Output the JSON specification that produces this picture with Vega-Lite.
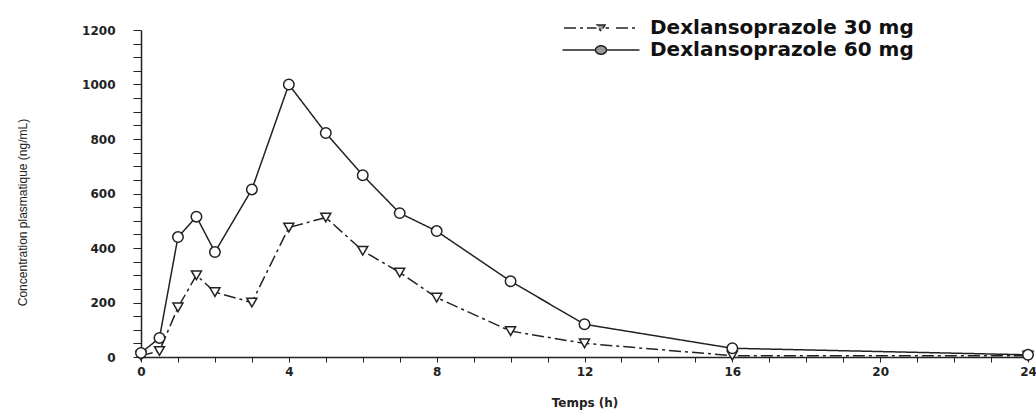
{
  "$schema": "https://vega.github.io/schema/vega-lite/v6.json",
  "width": 887,
  "height": 327,
  "autosize": {"type": "none"},
  "padding": {"left": 141, "top": 30, "right": 8, "bottom": 60},
  "background": "white",
  "config": {"view": {"stroke": null}, "axis": {"grid": false}},
  "data": {
    "values": [
      {"t": 0, "c": 5, "s": "Dexlansoprazole 30 mg"},
      {"t": 0.5, "c": 22, "s": "Dexlansoprazole 30 mg"},
      {"t": 1, "c": 182, "s": "Dexlansoprazole 30 mg"},
      {"t": 1.5, "c": 300, "s": "Dexlansoprazole 30 mg"},
      {"t": 2, "c": 238, "s": "Dexlansoprazole 30 mg"},
      {"t": 3, "c": 200, "s": "Dexlansoprazole 30 mg"},
      {"t": 4, "c": 475, "s": "Dexlansoprazole 30 mg"},
      {"t": 5, "c": 512, "s": "Dexlansoprazole 30 mg"},
      {"t": 6, "c": 390, "s": "Dexlansoprazole 30 mg"},
      {"t": 7, "c": 310, "s": "Dexlansoprazole 30 mg"},
      {"t": 8, "c": 218, "s": "Dexlansoprazole 30 mg"},
      {"t": 10, "c": 95, "s": "Dexlansoprazole 30 mg"},
      {"t": 12, "c": 50, "s": "Dexlansoprazole 30 mg"},
      {"t": 16, "c": 5, "s": "Dexlansoprazole 30 mg"},
      {"t": 24, "c": 5, "s": "Dexlansoprazole 30 mg"},
      {"t": 0, "c": 15, "s": "Dexlansoprazole 60 mg"},
      {"t": 0.5, "c": 70, "s": "Dexlansoprazole 60 mg"},
      {"t": 1, "c": 440, "s": "Dexlansoprazole 60 mg"},
      {"t": 1.5, "c": 515, "s": "Dexlansoprazole 60 mg"},
      {"t": 2, "c": 385, "s": "Dexlansoprazole 60 mg"},
      {"t": 3, "c": 615, "s": "Dexlansoprazole 60 mg"},
      {"t": 4, "c": 1000, "s": "Dexlansoprazole 60 mg"},
      {"t": 5, "c": 822, "s": "Dexlansoprazole 60 mg"},
      {"t": 6, "c": 667, "s": "Dexlansoprazole 60 mg"},
      {"t": 7, "c": 528, "s": "Dexlansoprazole 60 mg"},
      {"t": 8, "c": 462, "s": "Dexlansoprazole 60 mg"},
      {"t": 10, "c": 278, "s": "Dexlansoprazole 60 mg"},
      {"t": 12, "c": 120, "s": "Dexlansoprazole 60 mg"},
      {"t": 16, "c": 32, "s": "Dexlansoprazole 60 mg"},
      {"t": 24, "c": 8, "s": "Dexlansoprazole 60 mg"}
    ]
  },
  "encoding": {
    "x": {
      "field": "t",
      "type": "quantitative",
      "scale": {"domain": [0, 24], "nice": false},
      "axis": {
        "values": [0,1,2,3,4,5,6,7,8,9,10,11,12,13,14,15,16,17,18,19,20,21,22,23,24],
        "labelExpr": "datum.value % 4 === 0 ? datum.label : ''",
        "labelOverlap": false,
        "labelFlush": false,
        "labelFont": "DejaVu Sans",
        "labelFontWeight": "bold",
        "labelFontSize": 12,
        "labelColor": "#222",
        "labelPadding": 4,
        "tickSize": 5,
        "tickColor": "#222",
        "domainColor": "#222",
        "domainWidth": 1.5,
        "title": "Temps (h)",
        "titleFont": "DejaVu Sans",
        "titleFontSize": 12,
        "titleFontWeight": "bold",
        "titleColor": "#222",
        "titlePadding": 20
      }
    },
    "y": {
      "field": "c",
      "type": "quantitative",
      "scale": {"domain": [0, 1200], "nice": false},
      "axis": {
        "values": [0,50,100,150,200,250,300,350,400,450,500,550,600,650,700,750,800,850,900,950,1000,1050,1100,1150,1200],
        "labelExpr": "datum.value % 200 === 0 ? datum.label : ''",
        "format": "d",
        "labelOverlap": false,
        "labelFlush": false,
        "labelFont": "DejaVu Sans",
        "labelFontWeight": "bold",
        "labelFontSize": 12,
        "labelColor": "#222",
        "labelPadding": 18,
        "tickSize": 8,
        "tickColor": "#222",
        "domainColor": "#222",
        "domainWidth": 1.5,
        "title": "Concentration plasmatique  (ng/mL)",
        "titleFont": "Liberation Sans",
        "titleFontSize": 12,
        "titleFontWeight": "normal",
        "titleColor": "#222",
        "titlePadding": 52,
        "titleY": 182
      }
    }
  },
  "layer": [
    {
      "mark": {"type": "line", "color": "#222", "strokeWidth": 1.5},
      "encoding": {
        "strokeDash": {
          "field": "s",
          "type": "nominal",
          "scale": {
            "domain": ["Dexlansoprazole 30 mg", "Dexlansoprazole 60 mg"],
            "range": [[12, 4, 3, 4], [1, 0]]
          },
          "legend": {
            "orient": "none",
            "legendX": 449,
            "legendY": -13,
            "title": null,
            "padding": 0,
            "labelFont": "DejaVu Sans",
            "labelFontSize": 20,
            "labelFontWeight": "bold",
            "labelColor": "#111",
            "labelLimit": 500,
            "symbolSize": 400,
            "labelOffset": 38,
            "rowPadding": 1,
            "symbolType": {"expr": "datum.value === 'Dexlansoprazole 30 mg' ? 'M-3.7,0L-0.45,0M0.45,0L0.8,0M1.5,0L3.7,0M-0.4,-0.3L0.4,-0.3L0,0.35Z' : 'M-3.85,0L-0.55,0M0.55,0A0.55,0.42,0,1,1,-0.55,0A0.55,0.42,0,1,1,0.55,0M0.55,0L3.85,0'"},
            "symbolFillColor": "#999",
            "symbolStrokeColor": "#222",
            "symbolStrokeWidth": 1.5
          }
        }
      }
    },
    {
      "transform": [{"filter": "datum.s === 'Dexlansoprazole 30 mg'"}],
      "mark": {"type": "point", "shape": "triangle-down", "filled": true, "fill": "white", "stroke": "#222", "strokeWidth": 1.5, "size": 100, "opacity": 1}
    },
    {
      "transform": [{"filter": "datum.s === 'Dexlansoprazole 60 mg'"}],
      "mark": {"type": "point", "shape": "circle", "filled": true, "fill": "white", "stroke": "#222", "strokeWidth": 1.5, "size": 110, "opacity": 1}
    }
  ]
}
